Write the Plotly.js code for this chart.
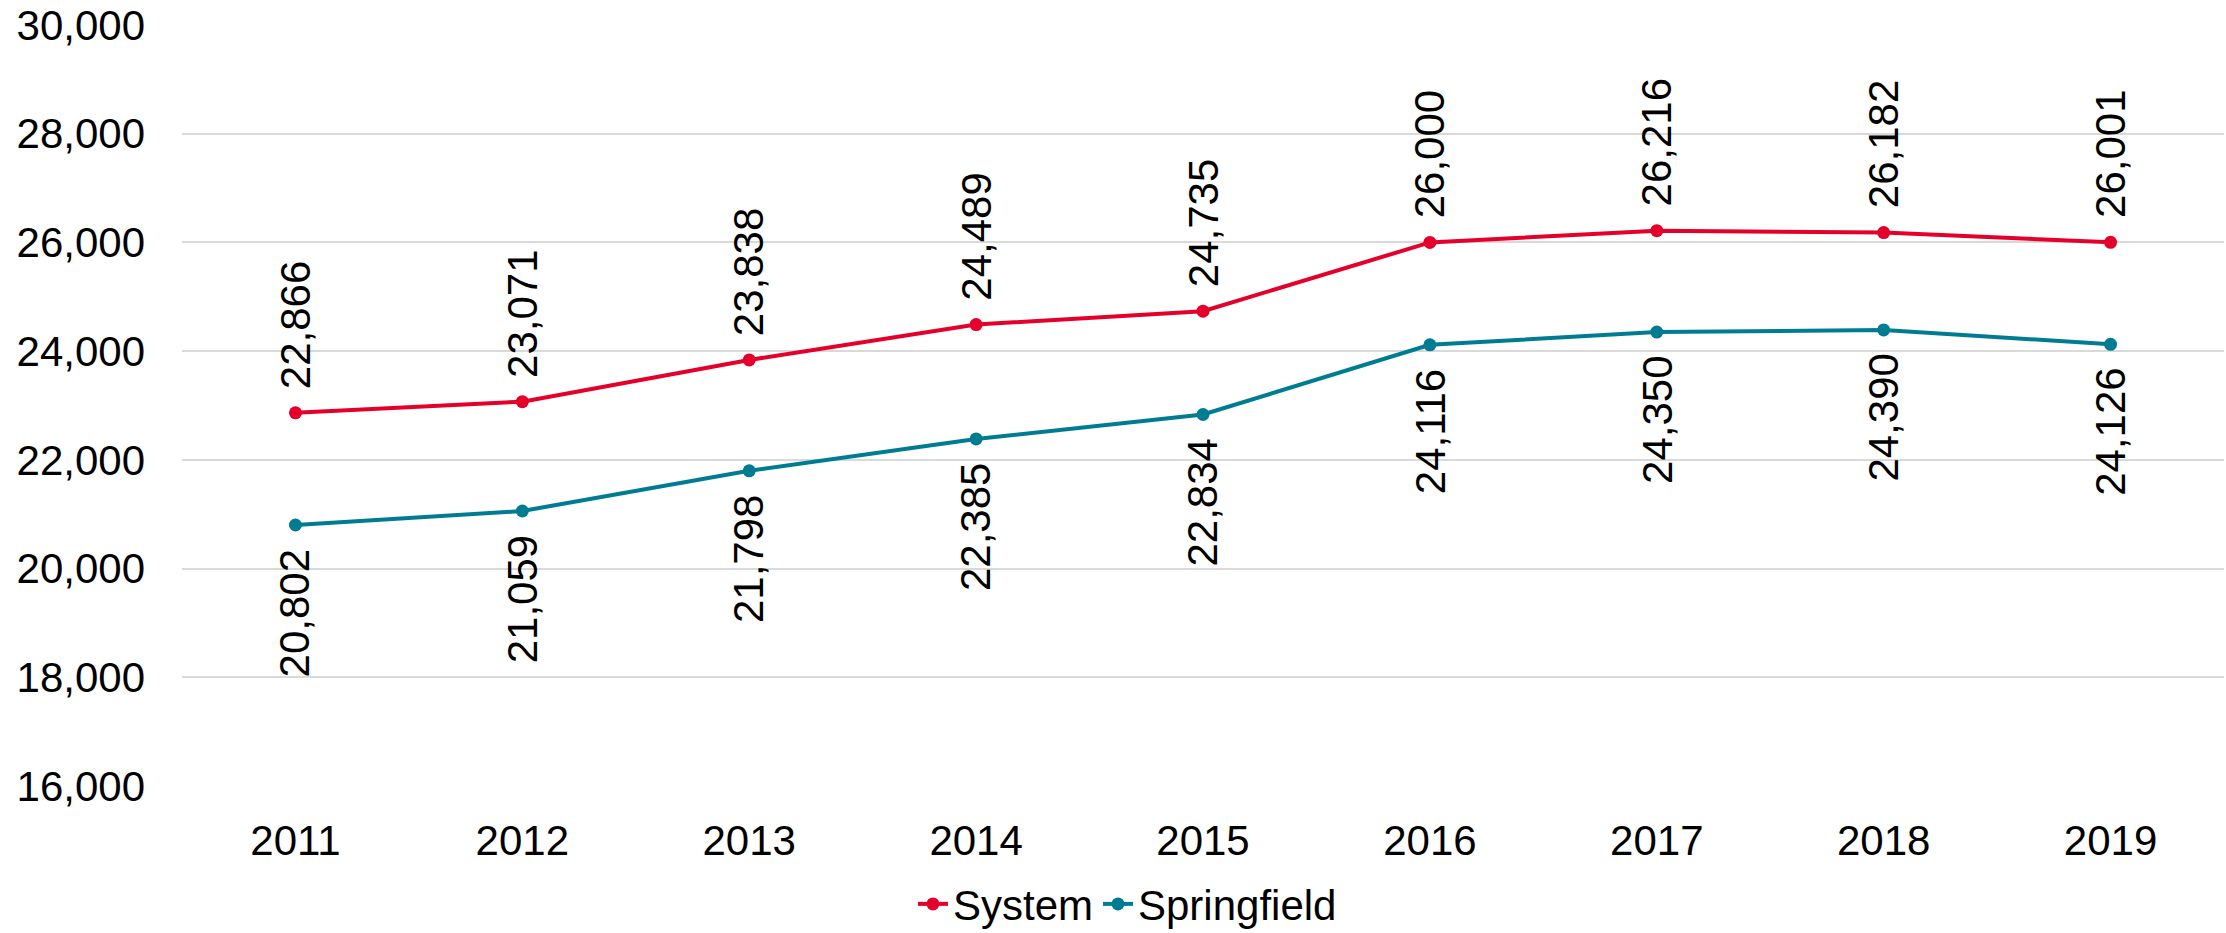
<!DOCTYPE html>
<html>
<head>
<meta charset="utf-8">
<script src="https://cdn.plot.ly/plotly-3.0.1.min.js"></script>
<style>
  html, body { margin: 0; padding: 0; background: #ffffff; }
  #chart { width: 2226px; height: 933px; }
</style>
</head>
<body>
<div id="chart"></div>
<script>
const years = ['2011', '2012', '2013', '2014', '2015', '2016', '2017', '2018', '2019'];
const systemValues = [22866, 23071, 23838, 24489, 24735, 26000, 26216, 26182, 26001];
const springfieldValues = [20802, 21059, 21798, 22385, 22834, 24116, 24350, 24390, 24126];
const seriesNames = ['System', 'Springfield'];
const seriesColors = ['#E4002B', '#007C92'];
const yTickValues = [16000, 18000, 20000, 22000, 24000, 26000, 28000, 30000];

const FONT = 'Liberation Sans, Arial, sans-serif';

function fmt(v) { return String(v).replace(/\B(?=(\d{3})+(?!\d))/g, ','); }

const traces = [
  {
    x: years, y: systemValues, name: seriesNames[0], type: 'scatter', mode: 'lines+markers',
    line: { color: seriesColors[0], width: 4 },
    marker: { color: seriesColors[0], size: 13 }
  },
  {
    x: years, y: springfieldValues, name: seriesNames[1], type: 'scatter', mode: 'lines+markers',
    line: { color: seriesColors[1], width: 4 },
    marker: { color: seriesColors[1], size: 13 }
  }
];

const annotations = [];
for (let i = 0; i < years.length; i++) {
  annotations.push({
    x: i, y: systemValues[i], xref: 'x', yref: 'y',
    text: fmt(systemValues[i]), showarrow: false, textangle: -90,
    xanchor: 'center', yanchor: 'bottom', yshift: 22,
    font: { family: FONT, size: 42, color: '#000000' }
  });
  annotations.push({
    x: i, y: springfieldValues[i], xref: 'x', yref: 'y',
    text: fmt(springfieldValues[i]), showarrow: false, textangle: -90,
    xanchor: 'center', yanchor: 'top', yshift: -22,
    font: { family: FONT, size: 42, color: '#000000' }
  });
}

const layout = {
  width: 2226, height: 933,
  paper_bgcolor: '#ffffff', plot_bgcolor: '#ffffff',
  margin: { l: 182, r: 2, t: 25, b: 147, autoexpand: false },
  font: { family: FONT, size: 42, color: '#000000' },
  showlegend: true,
  legend: {
    orientation: 'h', xref: 'paper', x: 0.463, xanchor: 'center',
    yref: 'container', y: 0.031, yanchor: 'middle',
    font: { family: FONT, size: 42, color: '#000000' },
    bgcolor: 'rgba(0,0,0,0)'
  },
  xaxis: {
    type: 'category', range: [-0.5, 8.5],
    showgrid: false, zeroline: false, showline: false,
    ticks: '', ticklabelstandoff: 26,
    tickfont: { family: FONT, size: 42, color: '#000000' }
  },
  yaxis: {
    range: [16000, 30000], tickvals: yTickValues, tickformat: ',d',
    showgrid: true, gridcolor: '#D9D9D9', gridwidth: 2,
    zeroline: false, showline: false, ticks: '', ticklabelstandoff: 36,
    tickfont: { family: FONT, size: 42, color: '#000000' }
  },
  annotations: annotations
};

Plotly.newPlot('chart', traces, layout, { displayModeBar: false });
</script>
</body>
</html>
